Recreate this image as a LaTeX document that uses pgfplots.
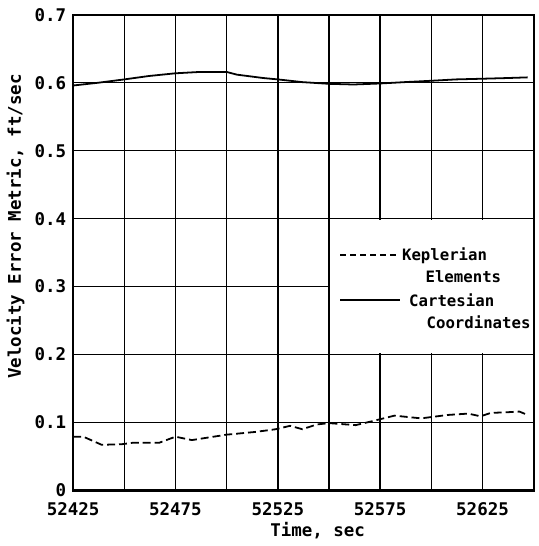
\documentclass[border=0pt]{standalone}
\usepackage{fontspec}
\setmainfont{DejaVu Sans Mono}
\usepackage{pgfplots}
\pgfplotsset{compat=1.18}
\begin{document}
\begin{tikzpicture}
\begin{axis}[
  scale only axis, width=232pt, height=239.5pt,
  xmin=52425, xmax=52650, ymin=0, ymax=0.7,
  xtick={52425,52475,52525,52575,52625},
  minor xtick={52450,52500,52550,52600},
  ytick={0,0.1,0.2,0.3,0.4,0.5,0.6,0.7},
  scaled x ticks=false,
  /pgf/number format/1000 sep={},
  /pgf/number format/assume math mode=true,
  grid=both,
  grid style={black, line width=0.7pt},
  minor grid style={black, line width=0.7pt},
  major tick length=0pt, minor tick length=0pt,
  axis line style={line width=1.2pt},
  tick label style={font=\fontsize{8.8}{10}\bfseries\selectfont},
  xticklabel style={yshift=-2.5pt},
  label style={font=\fontsize{8.8}{10}\bfseries\selectfont},
  xlabel={Time, sec},
  ylabel={Velocity Error Metric, ft/sec},
  xlabel style={at={(axis description cs:0.531,-0.0856)}, anchor=center},
  ylabel style={at={(axis description cs:-0.125,0.555)}, anchor=center},
  clip=false,
]
%% Keplerian elements (dashed)
\addplot[black, line width=0.9pt, dash pattern=on 4pt off 2pt]
  coordinates{
    (52425,0.079)(52430,0.079)(52439,0.067)(52449,0.068)(52454,0.070)
    (52467,0.070)(52475,0.079)(52483,0.074)(52500,0.082)(52514,0.086)
    (52524,0.090)(52531,0.095)(52537,0.090)(52544,0.097)(52550,0.099)
    (52563,0.096)(52570,0.101)(52582,0.110)(52595,0.106)(52608,0.111)
    (52618,0.113)(52624,0.109)(52629,0.114)(52637,0.115)(52643,0.116)
    (52647,0.111)
  };
%% Cartesian coordinates (solid)
\addplot[black, line width=0.9pt]
  coordinates{
    (52425,0.596)(52437,0.600)(52450,0.605)(52462,0.610)(52475,0.614)
    (52487,0.616)(52500,0.616)(52505,0.612)(52518,0.607)(52525,0.605)
    (52537,0.601)(52550,0.5985)(52562,0.5975)(52575,0.599)(52587,0.601)
    (52600,0.603)(52612,0.605)(52625,0.606)(52637,0.607)(52647,0.608)
  };
%% legend box
\fill[white] (axis cs:52550.4,0.2015) rectangle (axis cs:52649.6,0.3985);
\draw[black, line width=0.9pt, dash pattern=on 3pt off 2pt]
  (axis cs:52555.5,0.346) -- (axis cs:52584.5,0.346);
\node[anchor=west, inner sep=0pt, font=\fontsize{7.9}{9}\bfseries\selectfont]
  at (axis cs:52585.5,0.346) {Keplerian};
\node[anchor=west, inner sep=0pt, font=\fontsize{7.9}{9}\bfseries\selectfont]
  at (axis cs:52597,0.314) {Elements};
\draw[black, line width=0.9pt]
  (axis cs:52555.5,0.2805) -- (axis cs:52584.5,0.2805);
\node[anchor=west, inner sep=0pt, font=\fontsize{7.9}{9}\bfseries\selectfont]
  at (axis cs:52589,0.2805) {Cartesian};
\node[anchor=west, inner sep=0pt, font=\fontsize{7.9}{9}\bfseries\selectfont]
  at (axis cs:52597.5,0.247) {Coordinates};
%% page extent
\path (rel axis cs:-0.158,-0.1086) rectangle (rel axis cs:1.0101,1.0313);
\end{axis}
\end{tikzpicture}
\end{document}
